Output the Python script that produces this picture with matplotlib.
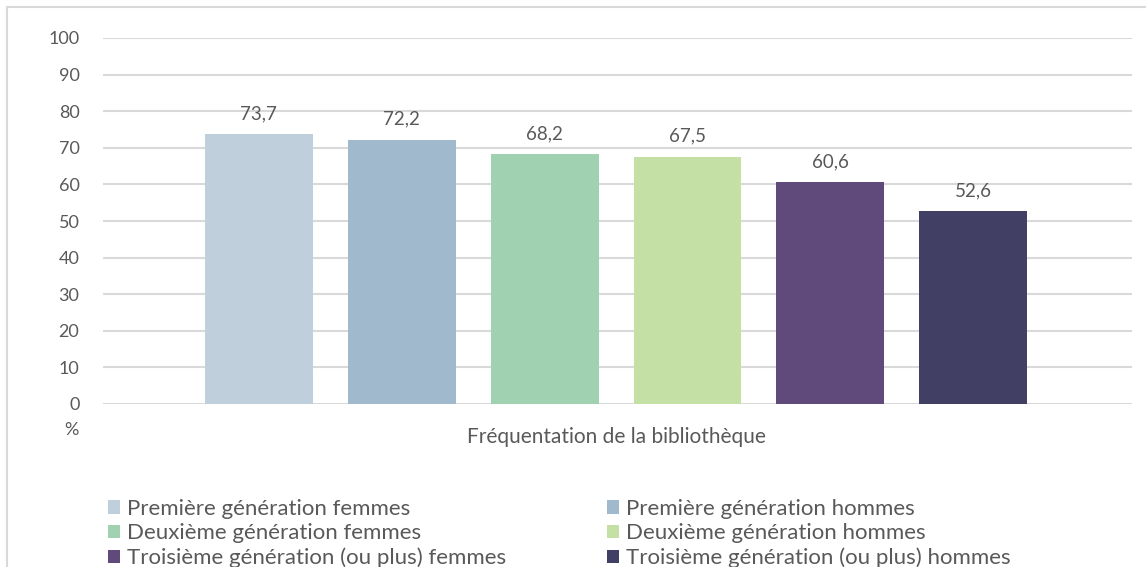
import matplotlib.pyplot as plt
from matplotlib.patches import Rectangle

plt.rcParams['font.family'] = ['Lato', 'DejaVu Sans']

# data
groups = ["Première génération femmes", "Première génération hommes",
          "Deuxième génération femmes", "Deuxième génération hommes",
          "Troisième génération (ou plus) femmes", "Troisième génération (ou plus) hommes"]
values = [73.7, 72.2, 68.2, 67.5, 60.6, 52.6]
colors = ["#BFD0DC", "#A0B9CC", "#A0D1B1", "#C4E0A5", "#5F4A7B", "#413F63"]
category = "Fréquentation de la bibliothèque"
yticks = list(range(0, 101, 10))

txt = "#595959"
grid = "#D9D9D9"

fig = plt.figure(figsize=(11.46, 5.67), dpi=100)
ax = fig.add_axes([103/1146, 1 - 404/567, (1132 - 103)/1146, (404 - 38)/567])

bars = []
for i, (g, v, c) in enumerate(zip(groups, values, colors)):
    b = ax.bar(i, v, width=0.755, color=c, label=g, zorder=3)
    bars.append(b)
    ax.text(i, v + 3.3, f"{v:.1f}".replace('.', ','), ha='center', va='bottom',
            fontsize=13.5, color=txt)

ax.set_xlim(-1.09, 6.11)
ax.set_ylim(0, 100)
ax.set_yticks(yticks)
ax.set_yticklabels([str(t) for t in yticks], fontsize=13, color=txt)
ax.set_xticks([])
ax.tick_params(axis='y', length=0, pad=17)
for s in ax.spines.values():
    s.set_visible(False)
ax.grid(axis='y', color=grid, linewidth=1.5, zorder=0)
ax.set_axisbelow(True)

fig.text(71/1146, 1 - 430/567, "%", fontsize=13, color=txt, ha='center', va='center')
fig.text(616/1146, 1 - 437/567, category, fontsize=15, color=txt, ha='center', va='center')

# legend: two columns placed separately
leg_kw = dict(loc='upper left', frameon=False, fontsize=16, labelcolor=txt,
              handlelength=0.55, handleheight=0.55, handletextpad=0.3,
              labelspacing=0.2, borderaxespad=0, borderpad=0)
left = fig.legend([bars[k] for k in (0, 2, 4)], [groups[k] for k in (0, 2, 4)],
                  bbox_to_anchor=(108/1146, 1 - 499/567), **leg_kw)
right = fig.legend([bars[k] for k in (1, 3, 5)], [groups[k] for k in (1, 3, 5)],
                   bbox_to_anchor=(607/1146, 1 - 499/567), **leg_kw)

# outer chart border
fig.patches.append(Rectangle((7/1146, -0.05), 1.1, 1.05 - 7/567,
                             transform=fig.transFigure, fill=False,
                             edgecolor=grid, linewidth=1.5))

fig.savefig("out.png", dpi=100)
